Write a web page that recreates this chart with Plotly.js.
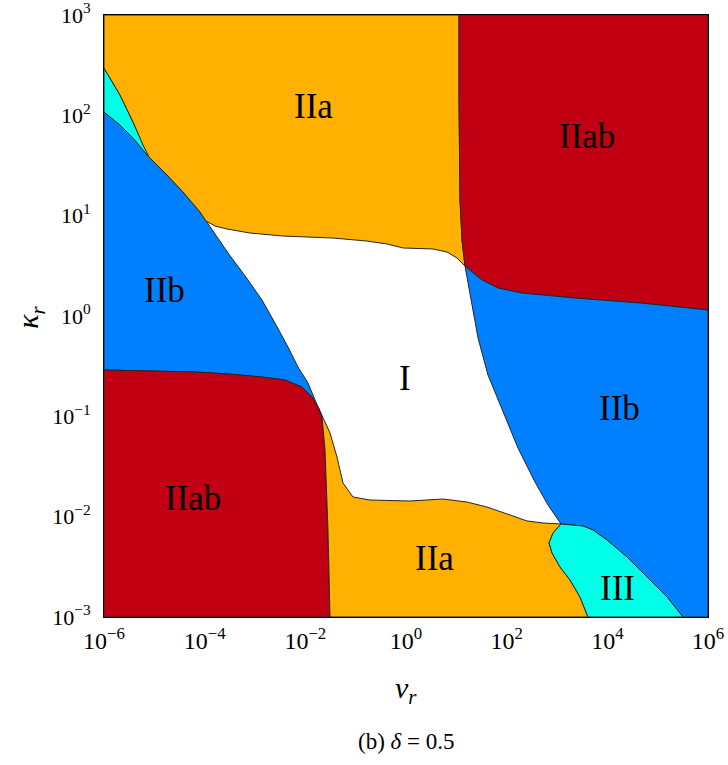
<!DOCTYPE html>
<html>
<head>
<meta charset="utf-8">
<script src="https://cdn.plot.ly/plotly-3.0.1.min.js"></script>
<style>html,body{margin:0;padding:0;background:#fff;}#chart{width:728px;height:765px;}</style>
</head>
<body>
<div id="chart"></div>
<script>
// Axis decades (exponents of 10)
const xTickExp = [-6, -4, -2, 0, 2, 4, 6];
const yTickExp = [-3, -2, -1, 0, 1, 2, 3];

// Region boundaries, given as log10(nu_r) and log10(kappa_r)
const cyanTopX = [-6, -5.682, -5.424, -5.225, -5.106];
const cyanTopY = [2.472, 2.203, 1.934, 1.704, 1.585];
const cyanBotX = [-6, -5.682, -5.424, -5.225, -5.106];
const cyanBotY = [2.033, 1.904, 1.774, 1.654, 1.585];
const blueOrangeX = [-5.106, -4.748, -4.430, -4.093, -3.973];
const blueOrangeY = [1.585, 1.405, 1.236, 1.037, 0.947];
const whiteTopX = [-3.973, -3.795, -3.556, -3.099, -2.444, -1.450, -0.775, -0.377, -0.059, 0.536, 0.815, 1.013, 1.172];
const whiteTopY = [0.947, 0.897, 0.867, 0.827, 0.797, 0.777, 0.747, 0.718, 0.678, 0.668, 0.638, 0.578, 0.498];
const orangeRedX = [1.053, 1.053, 1.073, 1.113, 1.172];
const orangeRedY = [3, 2.153, 1.156, 0.757, 0.498];
const redBlueRX = [1.172, 1.510, 1.828, 2.305, 3.358, 4.649, 6];
const redBlueRY = [0.498, 0.359, 0.279, 0.229, 0.179, 0.130, 0.060];
const whiteBlueRX = [1.172, 1.272, 1.431, 1.629, 1.927, 2.225, 2.563, 2.821, 3.080];
const whiteBlueRY = [0.498, 0.209, -0.219, -0.588, -0.957, -1.316, -1.655, -1.884, -2.073];
const whiteBotX = [-1.728, -1.510, -1.371, -1.252, -1.053, -0.715, 0.080, 0.735, 1.212, 1.609, 2.066, 2.404, 2.722, 3.080];
const whiteBotY = [-0.927, -1.166, -1.405, -1.664, -1.804, -1.834, -1.844, -1.824, -1.854, -1.904, -1.983, -2.043, -2.063, -2.073];
const redOrangeLX = [-1.728, -1.669, -1.609, -1.569, -1.550, -1.510];
const redOrangeLY = [-0.927, -1.007, -1.336, -1.834, -2.133, -3];
const redTopLX = [-6, -4.192, -3.536, -2.861, -2.404, -2.066, -1.867, -1.728];
const redTopLY = [-0.538, -0.558, -0.578, -0.608, -0.638, -0.708, -0.807, -0.927];
const blueWhiteLX = [-3.973, -3.536, -3.139, -2.861, -2.603, -2.344, -2.146, -1.947, -1.808, -1.728];
const blueWhiteLY = [0.947, 0.628, 0.359, 0.159, -0.070, -0.309, -0.508, -0.668, -0.837, -0.927];
const orangeCyanX = [3.080, 2.921, 2.841, 2.901, 3.060, 3.258, 3.457, 3.616];
const orangeCyanY = [-2.073, -2.163, -2.262, -2.362, -2.502, -2.631, -2.801, -3];
const cyanBlueX = [3.080, 3.517, 3.715, 3.994, 4.391, 4.788, 5.186, 5.504];
const cyanBlueY = [-2.073, -2.093, -2.133, -2.233, -2.402, -2.601, -2.801, -3];

// Region labels
const labelText = ['IIa', 'IIab', 'IIb', 'I', 'IIb', 'IIab', 'IIa', 'III'];
const labelX = [-1.828, 3.597, -4.808, -0.020, 4.232, -4.232, 0.576, 4.192];
const labelY = [2.093, 1.794, 0.259, -0.618, -0.917, -1.814, -2.412, -2.711];

const ORANGE = '#FFB000', RED = '#C00012', BLUE = '#0080FF', CYAN = '#00FFE6';

function seg(xs, ys, rev) {
  const p = xs.map((x, i) => [x, ys[i]]);
  return rev ? p.reverse() : p;
}
function pt(x, y) { return [[x, y]]; }
function region(parts, color) {
  const pts = [].concat(...parts);
  pts.push(pts[0]);
  return {
    type: 'scatter', mode: 'lines', fill: 'toself', fillcolor: color,
    x: pts.map(p => Math.pow(10, p[0])), y: pts.map(p => Math.pow(10, p[1])),
    line: {color: '#262626', width: 1}, hoverinfo: 'skip', showlegend: false
  };
}

const traces = [
  region([pt(-6, 2.033), seg(cyanBotX, cyanBotY), seg(blueOrangeX, blueOrangeY),
          seg(blueWhiteLX, blueWhiteLY), seg(redTopLX, redTopLY, true)], BLUE),
  region([seg(cyanTopX, cyanTopY), seg(cyanBotX, cyanBotY, true)], CYAN),
  region([pt(-6, 3), seg(orangeRedX, orangeRedY), seg(whiteTopX, whiteTopY, true),
          seg(blueOrangeX, blueOrangeY, true), seg(cyanTopX, cyanTopY, true)], ORANGE),
  region([pt(6, 3), pt(6, 0.060), seg(redBlueRX, redBlueRY, true), seg(orangeRedX, orangeRedY, true)], RED),
  region([seg(redBlueRX, redBlueRY), pt(6, -3), seg(cyanBlueX, cyanBlueY, true), seg(whiteBlueRX, whiteBlueRY, true)], BLUE),
  region([seg(redTopLX, redTopLY), seg(redOrangeLX, redOrangeLY), pt(-6, -3)], RED),
  region([seg(whiteBotX, whiteBotY), seg(orangeCyanX, orangeCyanY), seg(redOrangeLX, redOrangeLY, true)], ORANGE),
  region([seg(cyanBlueX, cyanBlueY), seg(orangeCyanX, orangeCyanY, true)], CYAN)
];

const FONT = 'Liberation Serif, serif';
const annotations = labelText.map((t, i) => ({
  x: labelX[i], y: labelY[i], xref: 'x', yref: 'y', text: t, showarrow: false,
  xanchor: 'center', yanchor: 'middle',
  font: {family: FONT, size: 35, color: '#000'}
}));
annotations.push({xref: 'paper', yref: 'paper', x: 0.5, y: -0.121, xanchor: 'center', yanchor: 'middle',
  text: '<i>ν<sub>r</sub></i>', showarrow: false, font: {family: FONT, size: 30, color: '#000'}});
annotations.push({xref: 'paper', yref: 'paper', x: -0.1225, y: 0.497, xanchor: 'center', yanchor: 'middle',
  text: '<i>κ<sub>r</sub></i>', textangle: -90, showarrow: false, font: {family: FONT, size: 30, color: '#000'}});
annotations.push({xref: 'paper', yref: 'paper', x: 0.5, y: -0.2076, xanchor: 'center', yanchor: 'middle',
  text: '(b) <i>δ</i> = 0.5', showarrow: false, font: {family: FONT, size: 23, color: '#000'}});

const expText = e => '10<sup>' + (e < 0 ? '−' + (-e) : e) + '</sup>';

const layout = {
  width: 728, height: 765,
  margin: {l: 104, r: 20, t: 15, b: 148},
  paper_bgcolor: '#fff', plot_bgcolor: '#fff',
  showlegend: false,
  xaxis: {type: 'log', range: [-6, 6], tickvals: xTickExp.map(e => Math.pow(10, e)),
    ticktext: xTickExp.map(expText), ticks: '', showgrid: false, zeroline: false,
    showline: true, mirror: true, linecolor: '#000', linewidth: 1, ticklabelstandoff: 2,
    ticklabeloverflow: 'allow', automargin: false,
    tickfont: {family: FONT, size: 24, color: '#000'}},
  yaxis: {type: 'log', range: [-3, 3], tickvals: yTickExp.map(e => Math.pow(10, e)),
    ticktext: yTickExp.map(expText), ticks: '', showgrid: false, zeroline: false,
    showline: true, mirror: true, linecolor: '#000', linewidth: 1, ticklabelstandoff: 8,
    ticklabeloverflow: 'allow', automargin: false,
    tickfont: {family: FONT, size: 22, color: '#000'}},
  annotations: annotations
};

Plotly.newPlot('chart', traces, layout, {staticPlot: true, displayModeBar: false});
</script>
</body>
</html>
